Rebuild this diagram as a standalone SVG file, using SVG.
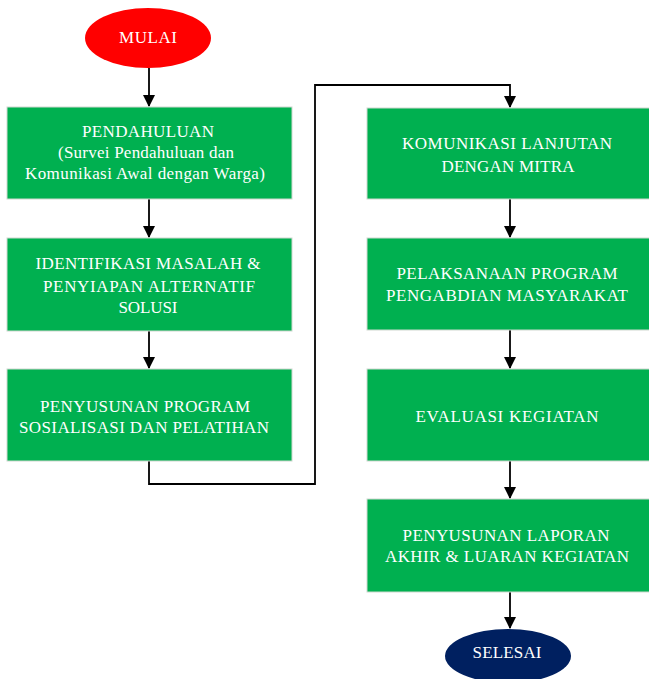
<svg xmlns="http://www.w3.org/2000/svg" width="649" height="679" viewBox="0 0 649 679">
<defs>
<style>
.box{fill:#00B050;stroke:#cfd8cf;stroke-width:1}
.t{font-family:"Liberation Serif","Times New Roman",serif;font-size:17px;fill:#ffffff;text-anchor:middle}
.c{fill:none;stroke:#000000;stroke-width:1.8}
</style>
<marker id="ah" markerWidth="12" markerHeight="12" refX="10" refY="5.5" orient="auto" markerUnits="userSpaceOnUse" viewBox="0 0 11 11">
<path d="M0,0 L11,5.5 L0,11 Z" fill="#000"/>
</marker>
</defs>
<rect width="649" height="679" fill="#ffffff"/>
<g id="connectors">
<path class="c" d="M149,68 V106" marker-end="url(#ah)"/>
<path class="c" d="M149,199 V237" marker-end="url(#ah)"/>
<path class="c" d="M149,331 V368" marker-end="url(#ah)"/>
<path class="c" d="M149,461 V484 H315 V85 H510 V107" marker-end="url(#ah)"/>
<path class="c" d="M510,199 V237" marker-end="url(#ah)"/>
<path class="c" d="M510,330 V368" marker-end="url(#ah)"/>
<path class="c" d="M510,461 V498" marker-end="url(#ah)"/>
<path class="c" d="M510,592 V628" marker-end="url(#ah)"/>
</g>
<g id="mulai">
<ellipse cx="148" cy="38" rx="63" ry="30" fill="#FF0000"/>
<text class="t" x="148" y="43" textLength="58" lengthAdjust="spacing">MULAI</text>
</g>
<g id="pendahuluan">
<rect class="box" x="7" y="107" width="285" height="92"/>
<text class="t" x="148" y="137" textLength="132" lengthAdjust="spacing">PENDAHULUAN</text>
<text class="t" x="146" y="158" textLength="176" lengthAdjust="spacing">(Survei Pendahuluan dan</text>
<text class="t" x="145" y="179" textLength="240" lengthAdjust="spacing">Komunikasi Awal dengan Warga)</text>
</g>
<g id="identifikasi">
<rect class="box" x="7" y="238" width="285" height="93"/>
<text class="t" x="148" y="269" textLength="225" lengthAdjust="spacing">IDENTIFIKASI MASALAH &amp;</text>
<text class="t" x="149" y="292" textLength="212" lengthAdjust="spacing">PENYIAPAN ALTERNATIF</text>
<text class="t" x="148" y="313" textLength="59" lengthAdjust="spacing">SOLUSI</text>
</g>
<g id="penyusunan-program">
<rect class="box" x="7" y="369" width="285" height="92"/>
<text class="t" x="145" y="412" textLength="210" lengthAdjust="spacing">PENYUSUNAN PROGRAM</text>
<text class="t" x="144" y="433" textLength="250" lengthAdjust="spacing">SOSIALISASI DAN PELATIHAN</text>
</g>
<g id="komunikasi">
<rect class="box" x="367" y="108" width="285" height="91"/>
<text class="t" x="507" y="149" textLength="210" lengthAdjust="spacing">KOMUNIKASI LANJUTAN</text>
<text class="t" x="508" y="172" textLength="133" lengthAdjust="spacing">DENGAN MITRA</text>
</g>
<g id="pelaksanaan">
<rect class="box" x="367" y="238" width="285" height="92"/>
<text class="t" x="507" y="279" textLength="221" lengthAdjust="spacing">PELAKSANAAN PROGRAM</text>
<text class="t" x="507" y="301" textLength="242" lengthAdjust="spacing">PENGABDIAN MASYARAKAT</text>
</g>
<g id="evaluasi">
<rect class="box" x="367" y="369" width="285" height="92"/>
<text class="t" x="507" y="422" textLength="183" lengthAdjust="spacing">EVALUASI KEGIATAN</text>
</g>
<g id="laporan">
<rect class="box" x="367" y="499" width="285" height="93"/>
<text class="t" x="506" y="541" textLength="207" lengthAdjust="spacing">PENYUSUNAN LAPORAN</text>
<text class="t" x="507" y="562" textLength="244" lengthAdjust="spacing">AKHIR &amp; LUARAN KEGIATAN</text>
</g>
<g id="selesai">
<ellipse cx="508" cy="656" rx="63" ry="27" fill="#002060"/>
<text class="t" x="507" y="658" textLength="69" lengthAdjust="spacing">SELESAI</text>
</g>
</svg>
